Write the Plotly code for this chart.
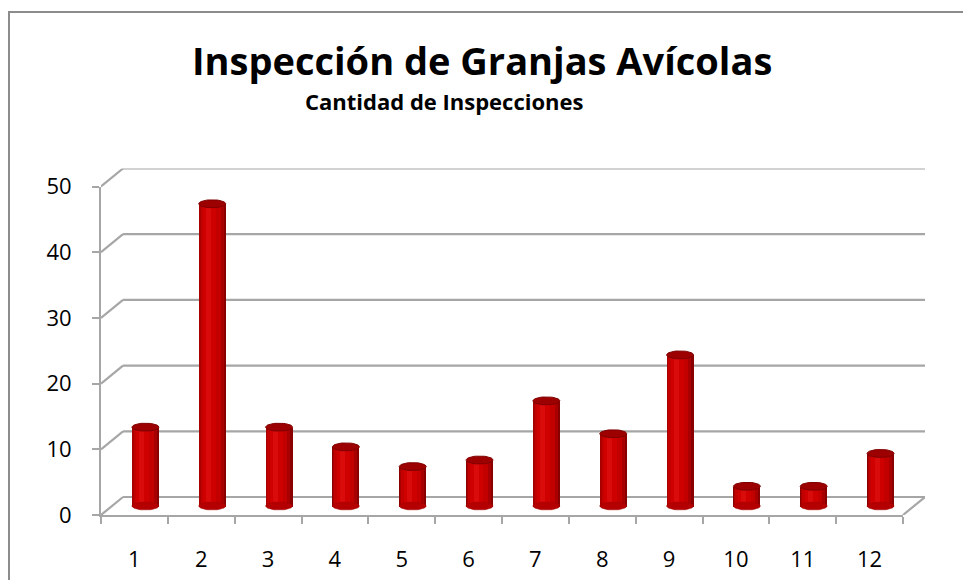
import numpy as np
import plotly.graph_objects as go

# ---- data ----
categories = ["1", "2", "3", "4", "5", "6", "7", "8", "9", "10", "11", "12"]
inspecciones = [12, 46, 12, 9, 6, 7, 16, 11, 23, 3, 3, 8]
y_ticks = [0, 10, 20, 30, 40, 50]
title_text = "Inspección de Granjas Avícolas"
subtitle_text = "Cantidad de Inspecciones"

# ---- geometry (pixels, in screenshot coordinates) ----
W, H = 971, 580
OFF = 8                      # page body margin
FX0, FX1 = 101, 903          # front x-axis extent
FY0 = 515                    # pixel of value 0 on the front axis
UY = 6.57                    # pixels per value unit
DXP, DYP = 22, 18            # depth offset of the back wall
n = len(categories)
UX = (FX1 - FX0) / n
DX_U = DXP / UX
DY_U = DYP / UY
YMAX = 50
BW = 27 / UX                 # bar (cylinder) width in category units
EH = 8 / UY                  # ellipse cap height in value units


def px(x):
    return (x - OFF) / W


def py(y):
    return 1 - (y - OFF) / H


GRID = "#a6a6a6"
FONT = "Open Sans"

fig = go.Figure()

# ---- back structure (subplot x/y) ----
gx, gy = [], []
for v in y_ticks:
    gx += [0.5, n + 0.5, None]
    gy += [v, v, None]
    gx += [0.5 - DX_U, 0.5, None]
    gy += [v - DY_U, v, None]
gx += [n + 0.5 - DX_U, n + 0.5, None]
gy += [-DY_U, 0, None]
fig.add_trace(go.Scatter(x=gx, y=gy, mode="lines", xaxis="x", yaxis="y",
                         line=dict(color=GRID, width=2.2), hoverinfo="skip",
                         showlegend=False))

# ---- cylinders (subplot x2/y2) ----
xc = np.arange(1, n + 1) + DX_U / 2
base = DY_U / 2
t = np.linspace(0, 2 * np.pi, 48)

# bottom ellipses
bx, by = [], []
for cx in xc:
    bx += list(cx + BW / 2 * np.cos(t)) + [None]
    by += list(base + EH / 2 * np.sin(t)) + [None]
fig.add_trace(go.Scatter(x=bx, y=by, mode="lines", fill="toself",
                         fillcolor="#b40000", line=dict(color="#a00000", width=0.5),
                         xaxis="x2", yaxis="y2", hoverinfo="skip", showlegend=False))

layers = [(1.00, 0.00, "#8a0000"),
          (0.90, -0.03, "#a80000"),
          (0.74, -0.06, "#c20000"),
          (0.48, -0.10, "#cf0000"),
          (0.18, -0.13, "#d90b0b")]
for wf, sf, col in layers:
    w = BW * wf
    fig.add_trace(go.Bar(x=np.arange(1, n + 1), y=inspecciones, base=base,
                         width=w, offset=DX_U / 2 + sf * BW - w / 2,
                         marker=dict(color=col, line=dict(width=0)),
                         xaxis="x2", yaxis="y2", hoverinfo="skip", showlegend=False))

# top caps
tx, ty = [], []
for cx, v in zip(xc, inspecciones):
    tx += list(cx + BW / 2 * np.cos(t)) + [None]
    ty += list(base + v + EH / 2 * np.sin(t)) + [None]
fig.add_trace(go.Scatter(x=tx, y=ty, mode="lines", fill="toself",
                         fillcolor="#9c0000", line=dict(color="#800000", width=1),
                         xaxis="x2", yaxis="y2", hoverinfo="skip", showlegend=False))

fig.update_layout(
    width=W, height=H, autosize=False,
    margin=dict(l=0, r=0, t=0, b=0, pad=0),
    paper_bgcolor="white", plot_bgcolor="rgba(0,0,0,0)",
    barmode="overlay", bargap=0,
    font=dict(family=FONT, color="#000000", size=20),
    xaxis=dict(domain=[px(FX0), px(FX1 + DXP)], range=[0.5 - DX_U, n + 0.5],
               visible=False, fixedrange=True, automargin=False),
    yaxis=dict(domain=[py(FY0), py(FY0 - DYP - YMAX * UY)],
               range=[-DY_U, YMAX], visible=False, fixedrange=True, automargin=False),
    xaxis2=dict(domain=[px(FX0), px(FX1)], range=[0.5, n + 0.5], anchor="y2",
                tickmode="array", tickvals=list(range(1, n + 1)), ticktext=categories,
                ticks="", showgrid=False, zeroline=False,
                showline=True, linecolor=GRID, linewidth=2,
                minor=dict(tickmode="array", tickvals=[i + 0.5 for i in range(n + 1)],
                           ticks="outside", ticklen=7, tickwidth=2, tickcolor=GRID,
                           showgrid=False),
                ticklabelstandoff=24, tickfont=dict(size=22, family=FONT),
                fixedrange=True, automargin=False),
    yaxis2=dict(domain=[py(FY0), py(FY0 - YMAX * UY)], range=[0, YMAX],
                anchor="x2", tickmode="array", tickvals=y_ticks,
                ticks="outside", ticklen=7, tickwidth=2, tickcolor=GRID,
                showgrid=False, zeroline=False,
                showline=True, linecolor=GRID, linewidth=2,
                ticklabelstandoff=16, tickfont=dict(size=22, family=FONT),
                fixedrange=True, automargin=False),
    annotations=[
        dict(text="<b>" + title_text + "</b>", xref="paper", yref="paper",
             x=px(482), y=py(60), xanchor="center", yanchor="middle",
             showarrow=False, font=dict(size=38, family=FONT)),
        dict(text="<b>" + subtitle_text + "</b>", xref="paper", yref="paper",
             x=px(444), y=py(101), xanchor="center", yanchor="middle",
             showarrow=False, font=dict(size=22, family=FONT)),
    ],
    shapes=[dict(type="rect", xref="paper", yref="paper",
                 x0=px(9), x1=px(969), y0=-0.1, y1=py(12),
                 line=dict(color="#8c8c8c", width=2), layer="below")],
)

fig.write_html("out.html")
